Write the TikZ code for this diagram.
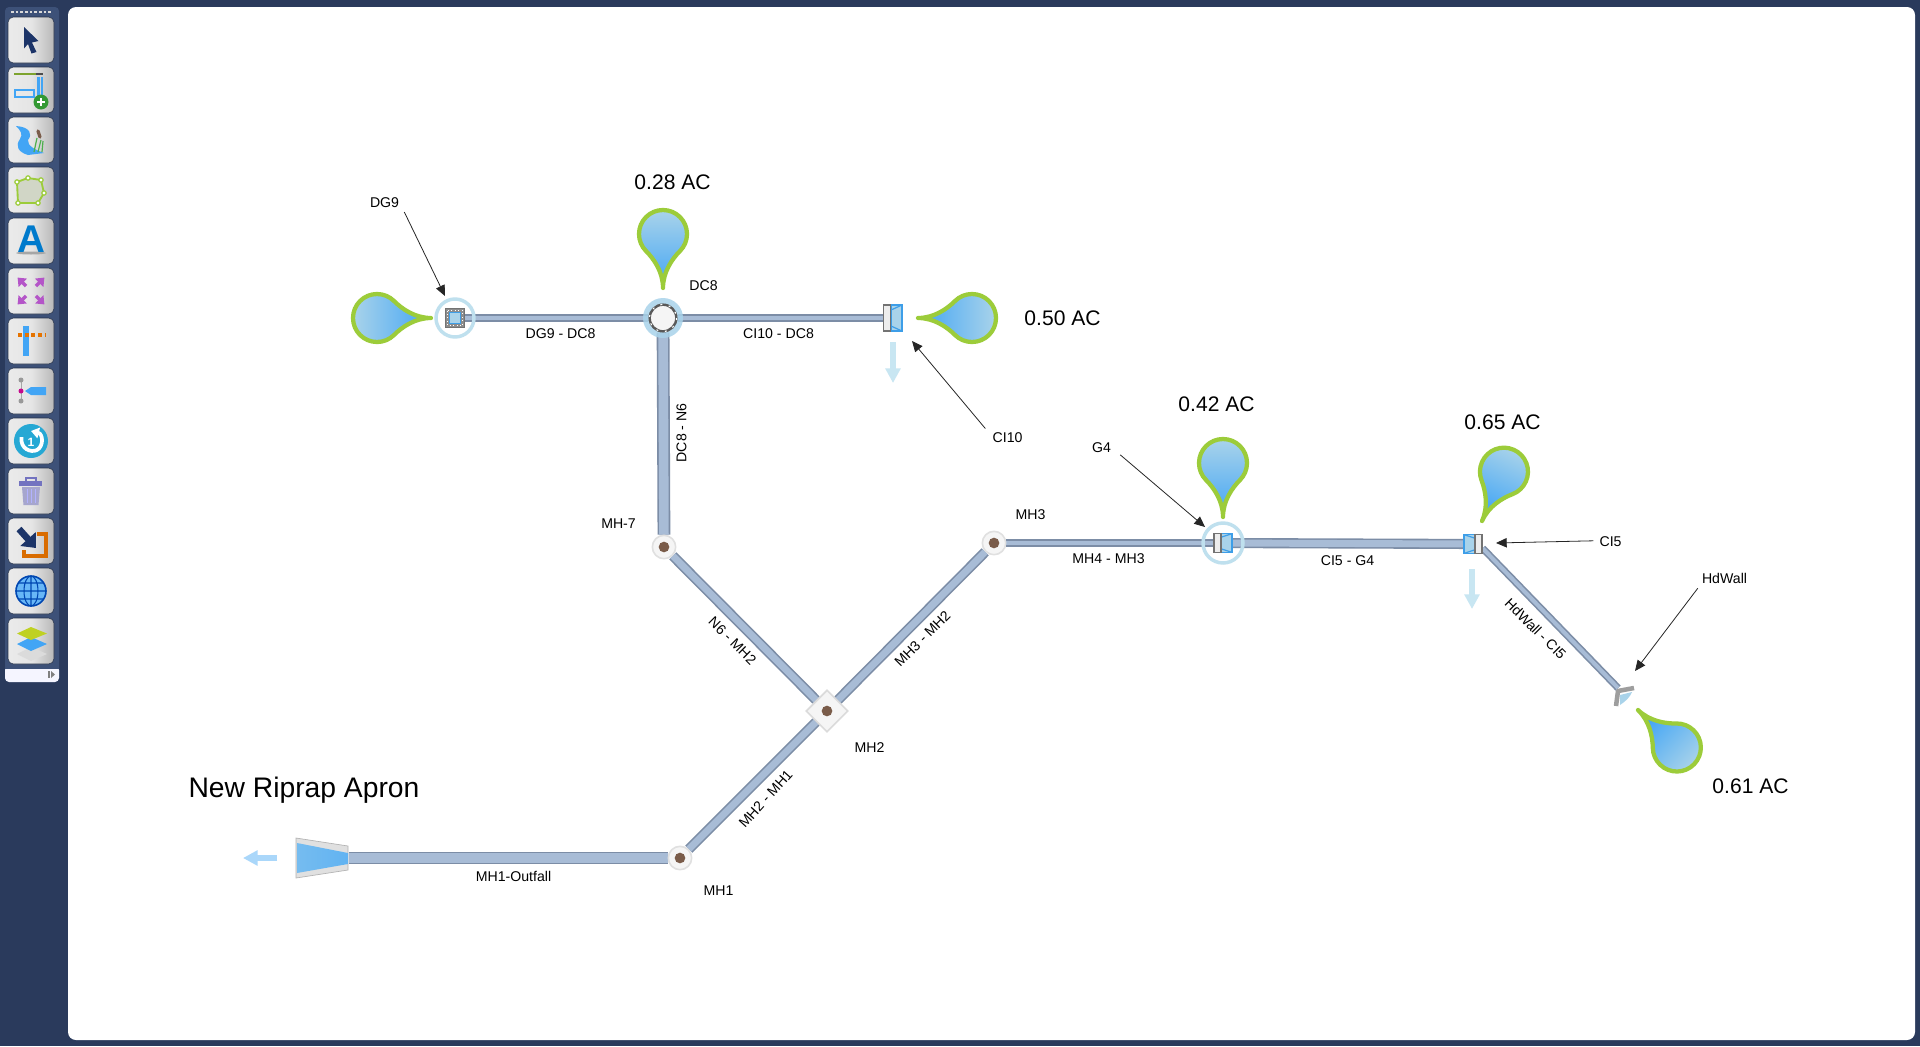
\documentclass[tikz,border=0pt]{standalone}
\usepackage{fontspec}
\setmainfont{Liberation Sans}
\usetikzlibrary{arrows.meta,backgrounds}

\definecolor{deskbg}{HTML}{2A3A5C}
\definecolor{toolpanel}{HTML}{3D5178}
\definecolor{pipeedge}{HTML}{7C8DA6}
\definecolor{pipefill}{HTML}{A8BCD6}
\definecolor{dropline}{HTML}{9CCC3A}
\definecolor{dropdeep}{HTML}{42A5F5}
\definecolor{droppale}{HTML}{A9D3EA}
\definecolor{inletblue}{HTML}{3D9EE8}
\definecolor{ringblue}{HTML}{BFE0EE}
\definecolor{flowblue}{HTML}{C8E6F2}
\definecolor{mhbrown}{HTML}{7A5C4A}
\definecolor{zoompurple}{HTML}{B455C8}
\definecolor{pointernavy}{HTML}{1C3468}

\tikzset{
  x=.75pt, y=-.75pt,
  pipe/.style={draw=pipeedge,line width=1.2pt,double=pipefill,double distance=#1},
  pipe/.default=5.2pt,
  pipelbl/.style={font=\fontsize{10.6}{12}\selectfont,inner sep=0pt,xshift=.4pt,yshift=-.6pt},
  aclbl/.style={font=\fontsize{15.8}{18}\selectfont,inner sep=0pt,xshift=.4pt,yshift=-.6pt},
  callout/.style={draw=black!85,line width=.6pt,-{Triangle[length=8pt,width=7pt]}},
  flowarrow/.style={draw=flowblue,line width=5pt,-{Triangle[length=11pt,width=11pt]}},
  manhole/.style={circle,draw=black!12,line width=1.2pt,fill=black!4,minimum size=17.5pt,inner sep=0pt},
  mhdot/.style={circle,fill=mhbrown,minimum size=8pt,inner sep=0pt},
  gratebar/.style={rectangle,draw=black!55,fill=black!7,line width=1.2pt,minimum width=5pt,minimum height=#1,inner sep=0pt},
  toolbtn/.style={rectangle,rounded corners=4pt,minimum size=34.5pt,inner sep=0pt,
    left color=black!8,right color=black!28,middle color=black!10,draw=toolpanel!60!black,line width=.4pt},
  catchdrop/.pic={
    \path[draw=dropline,line width=3.2pt,line join=round,line cap=round,left color=dropdeep,right color=droppale,shading angle=90+#1]
      (0,0) .. controls (16,0) and (29,-9) .. (37,-17)
      .. controls (41.5,-21.5) and (47.6,-24) .. (54,-24)
      .. controls (67.25,-24) and (78,-13.25) .. (78,0)
      .. controls (78,13.25) and (67.25,24) .. (54,24)
      .. controls (47.6,24) and (41.5,21.5) .. (37,17)
      .. controls (29,9) and (16,0) .. (0,0) -- cycle;
  },
  gratebox/.pic={
    \draw[draw=inletblue,fill=droppale,line width=.9pt] (0,-13) rectangle (11,13);
    \draw[draw=inletblue,line width=.9pt] (0,-8) -- (11,-13) (0,8) -- (11,13);
  }
}

\begin{document}
\begin{tikzpicture}

\useasboundingbox (0,0) rectangle (1920,1046);

%% desk and drawing sheet
\begin{pgfonlayer}{background}
\fill[deskbg] (0,0) rectangle (1920,1046);
\fill[white,rounded corners=6pt] (68,7) rectangle (1915,1040);
\end{pgfonlayer}

%% toolbar
\fill[toolpanel,rounded corners=3pt] (5,7) rectangle (59,682);
\fill[black!3!blue!4!white,rounded corners=3pt] (5,666) rectangle (59,682);
\fill[toolpanel] (5,664) rectangle (59,669);
\draw[black!15,line width=1.5pt,dash pattern=on 2pt off 1.5pt] (11,12) -- (52,12);
\draw[black!50,line width=.8pt] (49,671) -- (49,678);
\fill[black!50] (51,671) -- (55,674.5) -- (51,678) -- cycle;
\foreach \n/\y in {1/40,2/90,3/140,4/190,5/241,6/291,7/341,8/391,9/441,10/491,11/541,12/591,13/641}
  \node[toolbtn] (btn\n) at (31,\y) {};

%% pointer
\fill[pointernavy] (24,27) -- (38.5,41) -- (32,42.5) -- (36.5,52) -- (31.5,53.5) -- (28,44) -- (24,48.5) -- cycle;
%% add structure
\draw[dropline!80!black,line width=.9pt] (14,74) -- (36,74);
\draw[black!70,line width=1.4pt] (36,74) -- (43,74);
\draw[dropdeep,line width=1.8pt] (38.5,77) -- (38.5,97) -- (36,97) (42,77) -- (42,95) (15,90) rectangle (34,97);
\fill[green!50!black!80] (41,102) circle (7.5);
\draw[white,line width=1.8pt] (37,102) -- (45,102) (41,98) -- (41,106);
%% stream
\fill[dropdeep] (16,126) .. controls (30,127) and (33,134) .. (28,140) .. controls (27,146) and (36,150) .. (44,153)
  -- (28,155) .. controls (18,152) and (15,146) .. (20,139) .. controls (23,134) and (21,131) .. (16,126) -- cycle;
\draw[green!55!black!70!white,line width=.9pt] (34,152) -- (37,138) (38,152) -- (41,140) (42,152) -- (43,141);
\draw[mhbrown,line width=2.4pt,line cap=round] (38,131) -- (40,137);
%% area
\draw[dropline,fill=dropline!45!black!25,line width=1.4pt] (17,182) -- (28,178) -- (41,180) -- (44,193) -- (38,203) -- (18,203) -- cycle;
\foreach \px/\py in {17/182,28/178,41/180,44/193,38/203,18/203}
  \draw[dropline,fill=white,line width=.9pt] (\px,\py) circle (2.2);
%% text
\fill[black!35] (31,253) ellipse (15 and 1.5);
\node[font=\fontsize{29}{30}\selectfont\bfseries,text=blue!40!cyan!80!black,inner sep=0pt] (btnA) at (31,239) {A};
%% zoom extents
\foreach \a in {45,135,225,315}
  \draw[zoompurple,line width=2.6pt,-{Triangle[length=5.5pt,width=8.5pt]},shift={(31,291)},rotate=\a] (7,0) -- (19,0);
%% profile
\draw[dropdeep,line width=4.5pt] (26,326) -- (26,356);
\draw[orange!90!black,line width=2.4pt,dash pattern=on 3pt off 2pt] (18,335) -- (45,335);
%% outlet
\draw[black!35,line width=.6pt] (21,380) -- (21,401);
\fill[black!40] (21,380) circle (2.5) (21,401) circle (2.5);
\fill[dropdeep] (25,391) -- (31,387) -- (46,387) -- (46,395) -- (31,395) -- cycle;
\fill[magenta!80!blue] (21,391) circle (2.5);
%% undo
\fill[blue!25!cyan!80!black!85] (31,441) circle (17);
\draw[white,line width=2.8pt,-{Triangle[length=6pt,width=8pt]}] (21.5,437) .. controls (20,449) and (31,453) .. (37,450) .. controls (44,446) and (43,434) .. (31,431);
\node[font=\fontsize{9}{10}\selectfont\bfseries,text=white,inner sep=0pt] (btnOne) at (31,442) {1};
%% trash
\fill[blue!45!black!35] (22,487) -- (40,487) -- (38.5,505) -- (23.5,505) -- cycle;
\fill[blue!55!black!55] (19,481) rectangle (42,486);
\draw[blue!55!black!55,line width=.9pt] (26,481) -- (26,478) -- (36,478) -- (36,481);
\draw[white!70!blue,line width=.7pt] (27,489) -- (27,503) (31,489) -- (31,503) (35,489) -- (35,503);
%% import
\draw[orange!85!black,line width=2.6pt] (37,534) -- (46,534) -- (46,556) -- (24,556) -- (24,550);
\draw[pointernavy,line width=5pt,-{Triangle[length=9pt,width=15pt]}] (19,529) -- (36,548);
%% globe
\draw[blue!60!cyan!70!black,fill=dropdeep!80!white,line width=1.2pt] (31,591) circle (15);
\draw[blue!60!cyan!70!black,line width=.8pt] (31,591) ellipse (7 and 15) (31,576) -- (31,606) (16,591) -- (46,591) (19,583) -- (43,583) (19,599) -- (43,599);
%% layers
\fill[black!14] (31,647) -- (47,654) -- (31,661) -- (17,654) -- cycle;
\fill[dropdeep] (31,637) -- (47,644) -- (31,651) -- (17,644) -- cycle;
\fill[yellow!80!green!90!black] (31,627) -- (47,633.5) -- (31,640) -- (17,633.5) -- cycle;

%% junctions
\fill[droppale,opacity=.85] (663,318) circle (20);
\node[circle,draw=black!65,fill=black!4,line width=1.8pt,minimum size=20pt,inner sep=0pt] (dc8) at (663,318) {};
\draw[white,line width=.8pt,dash pattern=on 1.5pt off 5pt] (663,318) circle (13.5);
\node[rectangle,draw=black!55,fill=black!45,line width=.6pt,minimum size=14.5pt,inner sep=0pt] (dg9) at (455,318) {};
\draw[ringblue,line width=2.6pt] (dg9) circle (19);
\draw[white,line width=.6pt,dotted] (447.5,310.5) rectangle (462.5,325.5);
\draw[inletblue,fill=droppale,line width=1.3pt] (449.5,312.5) rectangle (460.5,323.5);
\node[manhole] (mh7) at (664,547) {};
\node[mhdot] at (mh7) {};
\node[manhole] (mh3) at (994,543) {};
\node[mhdot] at (mh3) {};
\node[manhole] (mh1) at (680,858) {};
\node[mhdot] at (mh1) {};
\node[rectangle,rotate=45,draw=black!14,line width=1.3pt,fill=black!4,minimum size=22pt,inner sep=0pt] (mh2) at (827,711) {};
\node[mhdot] at (mh2) {};
\pic[shift={(891,318)}] {gratebox};
\node[gratebar=19.5pt] (ci10) at (887,318) {};
\draw[ringblue,line width=2.6pt] (1223,543) circle (20);
\pic[shift={(1221,543)},yscale=.72] {gratebox};
\node[gratebar=14pt] (g4) at (1217.5,543) {};
\pic[shift={(1475,544)},yscale=.72,xscale=-1] {gratebox};
\node[gratebar=14pt] (ci5) at (1478.5,544) {};
\node[inner sep=0pt,minimum size=1pt] (hdwall) at (1619,689) {};
\fill[droppale] (1632,692) .. controls (1630,697) and (1626,701) .. (1620,705) -- (1620,695) -- cycle;
\draw[black!38,line width=3.4pt,line join=round] (1634,688) -- (1618,691) -- (1616,706);

%% outfall
\node[inner sep=0pt,minimum size=1pt] (outfall) at (348,858) {};
\fill[black!12] (296,838) -- (348,846) -- (348,870) -- (296,878) -- cycle;
\draw[black!30,line width=.5pt] (296,838) -- (348,846) -- (348,870) -- (296,878) -- cycle;
\shade[left color=dropdeep!50!droppale,right color=dropdeep!70!droppale] (297,843) -- (348,853) -- (348,864) -- (297,873) -- cycle;

%% pipes
\begin{pgfonlayer}{background}
\draw[pipe=3pt] (dg9) -- (dc8);
\draw[pipe=3pt] (dc8) -- (ci10);
\draw[pipe=7.2pt] (dc8) -- (mh7);
\draw[pipe] (mh7) -- (mh2);
\draw[pipe] (mh3) -- (mh2);
\draw[pipe] (mh2) -- (mh1);
\draw[pipe=7.2pt] (mh1) -- (outfall);
\draw[pipe=3pt] (mh3) -- (g4);
\draw[pipe] (g4) -- (ci5);
\draw[pipe=3pt] (ci5) -- (hdwall);
\end{pgfonlayer}

%% catchments
\pic (dropDG9) at (431,318) [rotate=180] {catchdrop=180};
\pic (dropDC8) at (663,288) [rotate=90] {catchdrop=90};
\pic (dropCI10) at (918,318) {catchdrop=0};
\pic (dropG4) at (1223,517) [rotate=90] {catchdrop=90};
\pic (dropCI5) at (1482,521) [rotate=66] {catchdrop=66};
\pic (dropHd) at (1638,710) [rotate=-44] {catchdrop=-44};

%% structure labels
\node[pipelbl] (lblDG9) at (384,202) {DG9};
\node[pipelbl] (lblDC8) at (703,285) {DC8};
\node[pipelbl] (lblCI10) at (1007,437) {CI10};
\node[pipelbl] (lblMH7) at (618,523) {MH-7};
\node[pipelbl] (lblMH3) at (1030,514) {MH3};
\node[pipelbl] (lblG4) at (1101,447) {G4};
\node[pipelbl] (lblCI5) at (1610,541) {CI5};
\node[pipelbl] (lblHd) at (1724,578) {HdWall};
\node[pipelbl] (lblMH2) at (869,747) {MH2};
\node[pipelbl] (lblMH1) at (718,890) {MH1};

%% pipe labels
\node[pipelbl] (lblA) at (560,333) {DG9 - DC8};
\node[pipelbl] (lblB) at (778,333) {CI10 - DC8};
\node[pipelbl,rotate=90] (lblC) at (681,432) {DC8 - N6};
\node[pipelbl,rotate=-45] (lblD) at (732,640) {N6 - MH2};
\node[pipelbl,rotate=45] (lblE) at (922,638) {MH3 - MH2};
\node[pipelbl,rotate=48] (lblF) at (765,798) {MH2 - MH1};
\node[pipelbl] (lblG) at (1108,558) {MH4 - MH3};
\node[pipelbl] (lblH) at (1347,560) {CI5 - G4};
\node[pipelbl,rotate=-45] (lblI) at (1535,628) {HdWall - CI5};
\node[pipelbl] (lblJ) at (513,876) {MH1-Outfall};

%% area labels
\node[aclbl] (acDC8) at (672,181) {0.28 AC};
\node[aclbl] (acCI10) at (1062,317) {0.50 AC};
\node[aclbl] (acG4) at (1216,403) {0.42 AC};
\node[aclbl] (acCI5) at (1502,421) {0.65 AC};
\node[aclbl] (acHd) at (1750,785) {0.61 AC};
\node[font=\fontsize{21.2}{24}\selectfont,inner sep=0pt] (apron) at (304,790) {New Riprap Apron};

%% callouts
\coordinate (tipDG9) at (445,296);
\coordinate (tipCI10) at (912,341);
\coordinate (tipG4) at (1205,527);
\coordinate (tipCI5) at (1496,543);
\coordinate (tipHd) at (1635,671);
\draw[callout] (lblDG9.south east) ++(5,4) -- (tipDG9);
\draw[callout] (lblCI10.north west) ++(-7,-4) -- (tipCI10);
\draw[callout] (lblG4.east) ++(9,7) -- (tipG4);
\draw[callout] (lblCI5.west) ++(-6,-1) -- (tipCI5);
\draw[callout] (lblHd.south west) ++(-4,4) -- (tipHd);

%% flow arrows
\coordinate (flowA) at (893,342);
\coordinate (flowB) at (893,383);
\coordinate (flowC) at (1472,569);
\coordinate (flowD) at (1472,609);
\coordinate (flowE) at (277,858);
\coordinate (flowF) at (243,858);
\draw[flowarrow] (flowA) -- (flowB);
\draw[flowarrow] (flowC) -- (flowD);
\draw[flowarrow,draw=dropdeep!45!white] (flowE) -- (flowF);

\end{tikzpicture}
\end{document}
